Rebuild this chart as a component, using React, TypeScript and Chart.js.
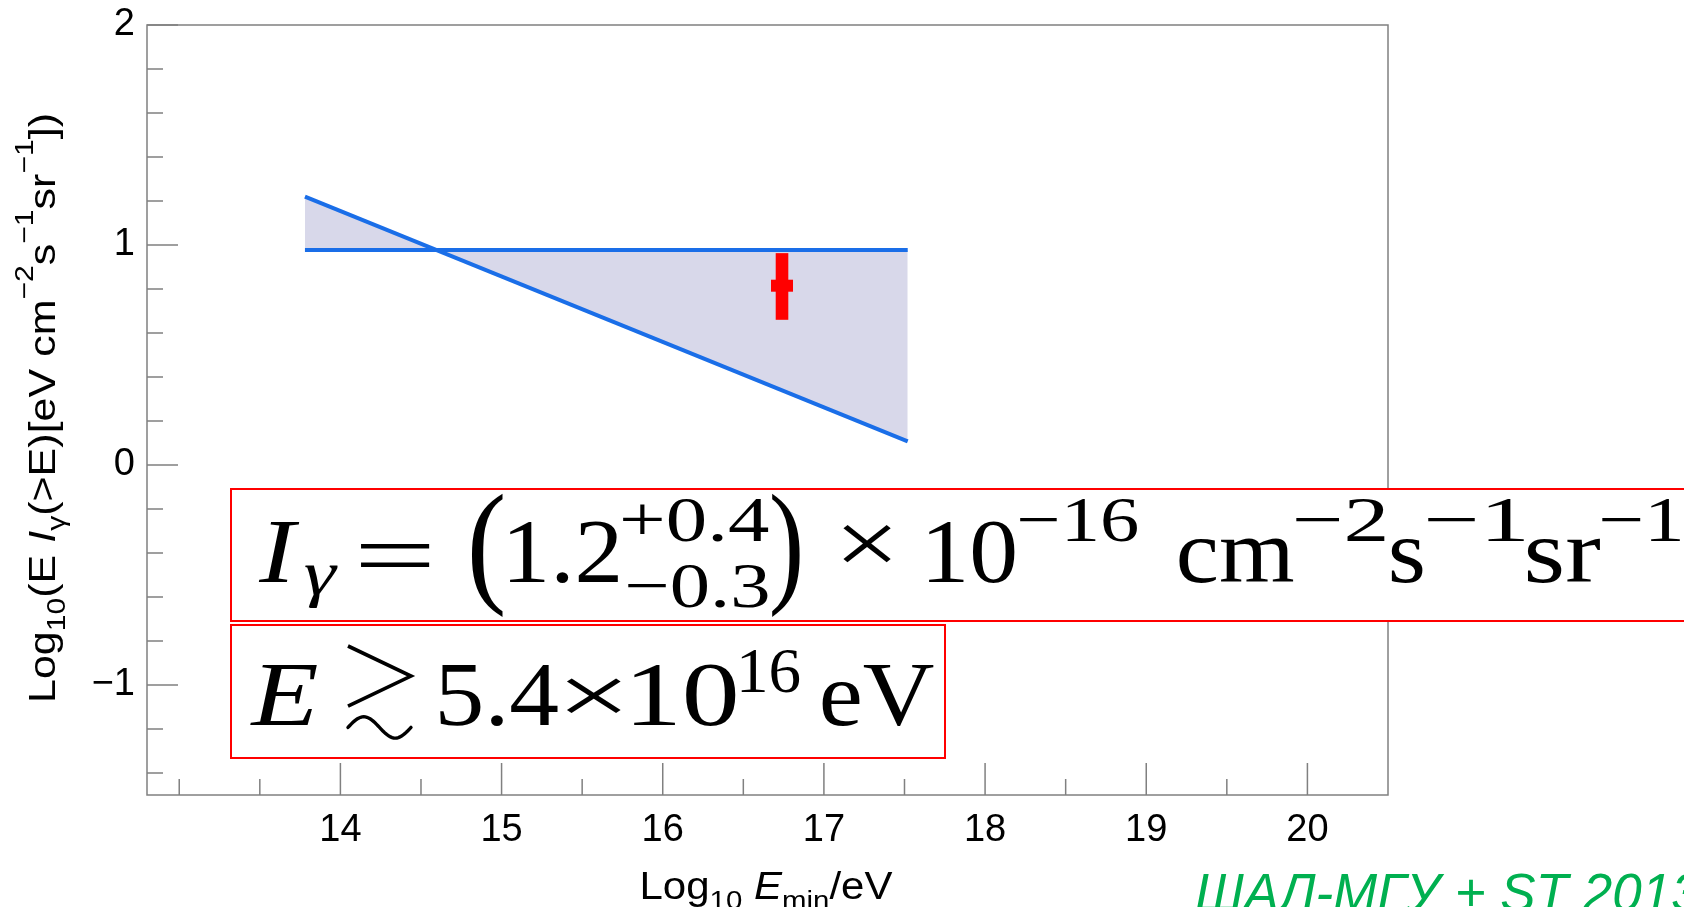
import React, { useEffect, useRef } from "react";
import { Chart, registerables } from "chart.js";

Chart.register(...registerables);

const W = 1684;
const H = 907;

// ---- data ----
const bandX = [13.78, 17.52];
const bandUpper = [0.977, 0.977];
const bandSlope = [1.22, 0.107];

const pointX = [16.74];
const pointY = [0.815];
const pointErrHi = [0.148];
const pointErrLo = [0.155];

const xTickValues = [13, 13.5, 14, 14.5, 15, 15.5, 16, 16.5, 17, 17.5, 18, 18.5, 19, 19.5, 20];
const xTickLabels = ["", "", "14", "", "15", "", "16", "", "17", "", "18", "", "19", "", "20"];
const yTickValues = [-1.4, -1.2, -1, -0.8, -0.6, -0.4, -0.2, 0, 0.2, 0.4, 0.6, 0.8, 1, 1.2, 1.4, 1.6, 1.8, 2];
const yTickLabels = ["", "", "\u22121", "", "", "", "", "0", "", "", "", "", "1", "", "", "", "", "2"];

// ---- styles ----
const BLUE = "#1a6ee8";
const FILL = "#d8d8ea";
const RED = "#ff0000";
const AXIS = "#808080";
const GREEN = "#00b050";
const SANS = '"Liberation Sans", Arial, sans-serif';
const SERIF = '"Liberation Serif", "DejaVu Serif", serif';

type Seg = { t: string; k?: "sub" | "sup"; it?: boolean };

const yTitle: Seg[] = [
  { t: "Log" }, { t: "10", k: "sub" }, { t: "(E " }, { t: "I", it: true }, { t: "\u03b3", k: "sub" },
  { t: "(>E)[eV cm" }, { t: "\u22122", k: "sup" }, { t: "s" }, { t: "\u22121", k: "sup" },
  { t: "sr" }, { t: "\u22121", k: "sup" }, { t: "])" },
];
const xTitle: Seg[] = [
  { t: "Log" }, { t: "10", k: "sub" }, { t: " " }, { t: "E", it: true }, { t: "min", k: "sub" }, { t: "/eV" },
];
const credit = "\u0428\u0410\u041b-\u041c\u0413\u0423 + ST 2013";

// formula pieces: text, ink x0, ink x1, baseline, size, italic, [ink y0, ink y1]
type Piece = [string, number, number, number, number, boolean, number?, number?];
const formula1: Piece[] = [
  ["I", 258, 300, 582, 92, true],
  ["\u03b3", 305, 338, 594, 64, true],
  ["=", 360, 430, 586, 92, false],
  ["(", 472, 503, 0, 92, false, 494, 618],
  ["1.2", 510, 618, 582, 92, false],
  ["+0.4", 623, 768, 541, 64, false],
  ["\u22120.3", 628, 768, 607, 64, false],
  [")", 771, 800, 0, 92, false, 494, 618],
  ["\u00d7", 843, 891, 574, 92, false],
  ["10", 929, 1015, 582, 92, false],
  ["\u221216", 1020, 1138, 541, 64, false],
  ["cm", 1179, 1294, 582, 92, false],
  ["\u22122", 1296, 1385, 541, 64, false],
  ["s", 1391, 1423, 582, 92, false],
  ["\u22121", 1428, 1525, 541, 64, false],
  ["sr", 1527, 1600, 582, 92, false],
  ["\u22121", 1602, 1681, 541, 64, false],
];
const formula2: Piece[] = [
  ["E", 249, 317, 725, 92, true],
  ["5.4", 440, 558, 725, 92, false],
  ["\u00d7", 566, 621, 724, 84, false],
  ["10", 634, 736, 725, 92, false],
  ["16", 741, 800, 692, 64, false],
  ["eV", 822, 934, 725, 92, false],
];

function fitPiece(ctx: CanvasRenderingContext2D, p: Piece) {
  const [text, x0, x1, base, size, it, y0, y1] = p;
  ctx.font = `${it ? "italic " : ""}${size}px ${SERIF}`;
  ctx.textAlign = "left";
  ctx.textBaseline = "alphabetic";
  const m = ctx.measureText(text);
  const inkW = m.actualBoundingBoxLeft + m.actualBoundingBoxRight;
  let sx = inkW > 0 ? (x1 - x0) / inkW : 1;
  sx = Math.max(0.6, Math.min(1.6, sx));
  ctx.save();
  if (y0 !== undefined && y1 !== undefined) {
    const inkH = m.actualBoundingBoxAscent + m.actualBoundingBoxDescent;
    const sy = (y1 - y0) / inkH;
    ctx.translate(x0, y0);
    ctx.scale(sx, sy);
    ctx.fillText(text, m.actualBoundingBoxLeft, m.actualBoundingBoxAscent);
  } else {
    ctx.translate(x0, base);
    ctx.scale(sx, 1);
    ctx.fillText(text, m.actualBoundingBoxLeft, 0);
  }
  ctx.restore();
}

// "greater than or approximately" drawn as > over ~
function drawGtrsim(ctx: CanvasRenderingContext2D, x0: number, x1: number, y0: number, y1: number) {
  const h = y1 - y0;
  ctx.save();
  ctx.strokeStyle = "#000";
  ctx.lineWidth = 3.6;
  ctx.lineCap = "butt";
  ctx.lineJoin = "miter";
  ctx.beginPath();
  ctx.moveTo(x0 + 2, y0 + 2);
  ctx.lineTo(x1 - 2, y0 + h * 0.33);
  ctx.lineTo(x0 + 2, y0 + h * 0.64);
  ctx.stroke();
  ctx.lineWidth = 3.4;
  ctx.lineCap = "round";
  ctx.beginPath();
  const cy = y0 + h * 0.86;
  const a = h * 0.11;
  for (let i = 0; i <= 40; i++) {
    const t = i / 40;
    const x = x0 + 2 + t * (x1 - x0 - 4);
    const y = cy - a * Math.sin(2 * Math.PI * t);
    if (i === 0) ctx.moveTo(x, y);
    else ctx.lineTo(x, y);
  }
  ctx.stroke();
  ctx.restore();
}

function segFont(s: Seg, size: number) {
  const sz = s.k ? size * 0.7 : size;
  return `${s.it ? "italic " : ""}${sz}px ${SANS}`;
}

function richWidth(ctx: CanvasRenderingContext2D, segs: Seg[], size: number) {
  let w = 0;
  for (const s of segs) {
    ctx.font = segFont(s, size);
    w += ctx.measureText(s.t).width;
  }
  return w;
}

function drawRich(ctx: CanvasRenderingContext2D, segs: Seg[], cx: number, base: number, size: number, target: number) {
  const w = richWidth(ctx, segs, size);
  const sx = target / w;
  ctx.save();
  ctx.translate(cx, base);
  ctx.scale(sx, 1);
  let x = -w / 2;
  ctx.textAlign = "left";
  ctx.textBaseline = "alphabetic";
  for (const s of segs) {
    ctx.font = segFont(s, size);
    const dy = s.k === "sub" ? size * 0.27 : s.k === "sup" ? -size * 0.6 : 0;
    ctx.fillText(s.t, x, dy);
    x += ctx.measureText(s.t).width;
  }
  ctx.restore();
}

const decor = {
  id: "decor",
  beforeDatasetsDraw(chart: any) {
    const { ctx, chartArea: a, scales } = chart;
    ctx.save();
    ctx.strokeStyle = AXIS;
    ctx.lineWidth = 1.5;
    ctx.strokeRect(a.left, a.top, a.right - a.left, a.bottom - a.top);
    ctx.beginPath();
    scales.x.ticks.forEach((t: any, i: number) => {
      const px = scales.x.getPixelForValue(t.value);
      const len = xTickLabels[i] ? 32 : 16;
      ctx.moveTo(px, a.bottom);
      ctx.lineTo(px, a.bottom - len);
    });
    scales.y.ticks.forEach((t: any, i: number) => {
      const py = scales.y.getPixelForValue(t.value);
      const len = yTickLabels[i] ? 31 : 16;
      ctx.moveTo(a.left, py);
      ctx.lineTo(a.left + len, py);
    });
    ctx.stroke();
    ctx.restore();
  },
  afterDatasetsDraw(chart: any) {
    const { ctx, scales } = chart;
    ctx.save();
    ctx.fillStyle = RED;
    pointX.forEach((x, i) => {
      const px = scales.x.getPixelForValue(x);
      const yT = scales.y.getPixelForValue(pointY[i] + pointErrHi[i]);
      const yB = scales.y.getPixelForValue(pointY[i] - pointErrLo[i]);
      const yc = scales.y.getPixelForValue(pointY[i]);
      ctx.fillRect(px - 6.3, yT, 12.6, yB - yT);
      ctx.fillRect(px - 11, yc - 6, 22, 12);
    });
    ctx.restore();
  },
  afterDraw(chart: any) {
    const { ctx } = chart;
    ctx.save();
    // axis titles
    ctx.fillStyle = "#000";
    drawRich(ctx, xTitle, 766, 899, 38, 253);
    ctx.save();
    ctx.translate(55, 408);
    ctx.rotate(-Math.PI / 2);
    drawRich(ctx, yTitle, 0, 0, 37, 590);
    ctx.restore();
    // formula boxes
    ctx.fillStyle = "#fff";
    ctx.fillRect(231, 489, 1500, 132);
    ctx.fillRect(231, 625, 714, 133);
    ctx.strokeStyle = RED;
    ctx.lineWidth = 2;
    ctx.strokeRect(231, 489, 1500, 132);
    ctx.strokeRect(231, 625, 714, 133);
    ctx.fillStyle = "#000";
    formula1.forEach((p) => fitPiece(ctx, p));
    formula2.forEach((p) => fitPiece(ctx, p));
    drawGtrsim(ctx, 346, 413, 644, 741);
    // credit
    ctx.fillStyle = GREEN;
    ctx.font = `italic 53px ${SANS}`;
    ctx.textAlign = "left";
    ctx.textBaseline = "alphabetic";
    ctx.fillText(credit, 1195, 911);
    ctx.restore();
  },
};

export default function App() {
  const ref = useRef<HTMLCanvasElement | null>(null);
  useEffect(() => {
    if (!ref.current) return;
    const chart = new Chart(ref.current, {
      type: "line",
      data: {
        datasets: [
          {
            label: "upper",
            data: bandX.map((x, i) => ({ x, y: bandUpper[i] })),
            borderColor: BLUE,
            borderWidth: 4,
            pointRadius: 0,
            fill: false,
          },
          {
            label: "slope",
            data: bandX.map((x, i) => ({ x, y: bandSlope[i] })),
            borderColor: BLUE,
            borderWidth: 4,
            pointRadius: 0,
            fill: "-1",
            backgroundColor: FILL,
          },
        ],
      },
      options: {
        responsive: false,
        animation: false,
        devicePixelRatio: 1,
        layout: { padding: { top: 25, right: 296, left: 0, bottom: 0 } },
        plugins: { legend: { display: false }, tooltip: { enabled: false }, title: { display: false } },
        scales: {
          x: {
            type: "linear",
            min: 12.8,
            max: 20.5,
            grid: { display: false, drawTicks: false },
            border: { display: false },
            afterBuildTicks: (s: any) => {
              s.ticks = xTickValues.map((v) => ({ value: v }));
            },
            afterFit: (s: any) => {
              s.height = 112;
              s.paddingLeft = 0;
              s.paddingRight = 0;
            },
            ticks: {
              autoSkip: false,
              maxRotation: 0,
              padding: 13,
              color: "#000",
              font: { family: SANS, size: 38 },
              callback: (_v: any, i: number) => xTickLabels[i],
            },
          },
          y: {
            type: "linear",
            min: -1.5,
            max: 2,
            grid: { display: false, drawTicks: false },
            border: { display: false },
            afterBuildTicks: (s: any) => {
              s.ticks = yTickValues.map((v) => ({ value: v }));
            },
            afterFit: (s: any) => {
              s.width = 147;
              s.paddingTop = 0;
              s.paddingBottom = 0;
            },
            ticks: {
              autoSkip: false,
              padding: 12,
              color: "#000",
              font: { family: SANS, size: 38 },
              callback: (_v: any, i: number) => yTickLabels[i],
            },
          },
        },
      },
      plugins: [decor],
    } as any);
    return () => chart.destroy();
  }, []);
  return (
    <div style={{ position: "fixed", left: 0, top: 0, width: W, height: H, background: "#fff" }}>
      <canvas ref={ref} width={W} height={H} style={{ display: "block" }} />
    </div>
  );
}
